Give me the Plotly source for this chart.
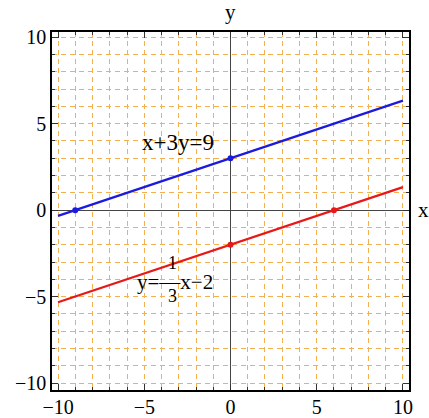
import plotly.graph_objects as go

# lines as drawn (x from -10 to 10)
blue_x = [-10, 10]
blue_y = [-0.33, 6.33]
red_x = [-10, 10]
red_y = [-5.33, 1.33]

# intercept points
blue_pts_x = [-9, 0]
blue_pts_y = [0, 3]
red_pts_x = [0, 6]
red_pts_y = [-2, 0]

tick_vals = [-10, -5, 0, 5, 10]
tick_text = ["\u221210", "\u22125", "0", "5", "10"]

blue = "#1a1ae0"
red = "#e81818"
grid_orange = "#f2b050"
serif = "Liberation Serif, Tinos, Times New Roman, DejaVu Serif, serif"

fig = go.Figure()
fig.add_trace(go.Scatter(x=blue_x, y=blue_y, mode="lines",
                         line=dict(color=blue, width=2.2)))
fig.add_trace(go.Scatter(x=red_x, y=red_y, mode="lines",
                         line=dict(color=red, width=2.2)))
fig.add_trace(go.Scatter(x=blue_pts_x, y=blue_pts_y, mode="markers",
                         marker=dict(color=blue, size=6)))
fig.add_trace(go.Scatter(x=red_pts_x, y=red_pts_y, mode="markers",
                         marker=dict(color=red, size=6)))

axis = dict(
    tickvals=tick_vals, ticktext=tick_text,
    ticks="inside", ticklen=6, tickcolor="#333", tickwidth=1,
    showgrid=True, gridcolor=grid_orange, griddash="5px,4px", gridwidth=1,
    minor=dict(dtick=1, tick0=0, ticks="inside", ticklen=3, tickcolor="#333",
               showgrid=True, gridcolor=grid_orange, griddash="5px,4px", gridwidth=1),
    zeroline=True, zerolinecolor="#444", zerolinewidth=1.2,
    showline=True, linecolor="black", linewidth=1.5, mirror="ticks",
    tickfont=dict(family=serif, size=20, color="black"),
    automargin=False,
)

fig.update_xaxes(range=[-10.35, 10.35], ticklabelstandoff=-2, **axis)
fig.update_yaxes(range=[-10.4, 10.3], **axis)

fig.add_annotation(x=-3.07, y=3.93, text="x+3y=9", showarrow=False,
                   font=dict(family=serif, size=23, color="black"))
fig.add_annotation(x=-3.19, y=-4.16, text="y=\u2015x\u22122", showarrow=False,
                   font=dict(family=serif, size=21, color="black"))
fig.add_annotation(x=-3.36, y=-3.06, text="1", showarrow=False,
                   font=dict(family=serif, size=18, color="black"))
fig.add_annotation(x=-3.36, y=-4.95, text="3", showarrow=False,
                   font=dict(family=serif, size=18, color="black"))

fig.add_annotation(x=0, y=1, xref="x", yref="paper", yshift=20, yanchor="middle",
                   text="y", showarrow=False,
                   font=dict(family=serif, size=21, color="black"))
fig.add_annotation(x=1, y=0, xref="paper", yref="y", xshift=14, xanchor="center",
                   text="x", showarrow=False,
                   font=dict(family=serif, size=21, color="black"))

fig.update_layout(
    width=429, height=418,
    margin=dict(l=52, r=20, t=32, b=28),
    plot_bgcolor="white", paper_bgcolor="white",
    showlegend=False,
)

fig.write_html("out.html", config={"displayModeBar": False},
               post_script="document.body.style.margin='0';")
